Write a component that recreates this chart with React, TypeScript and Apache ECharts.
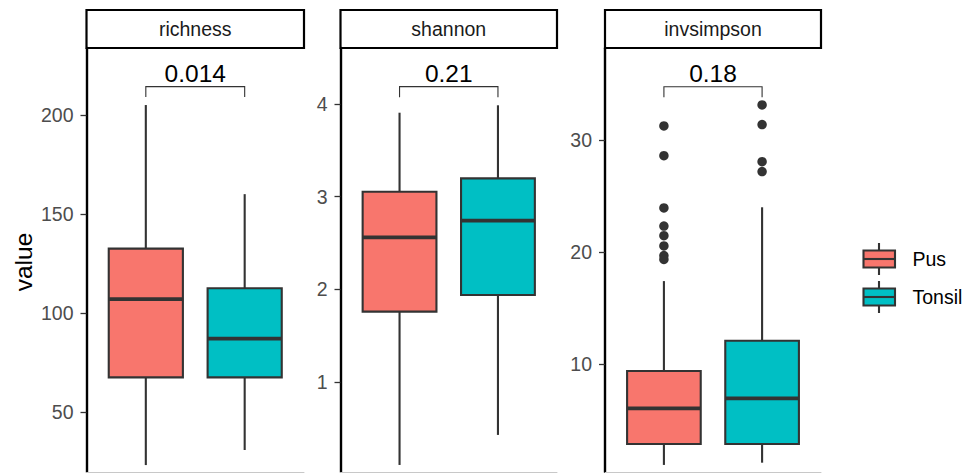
import React, { useEffect, useRef } from "react";
import * as echarts from "echarts";

// ---- data ----
const groups = ["Pus", "Tonsil"];
const groupColors = ["#F8766D", "#00BFC4"];
const metrics = ["richness", "shannon", "invsimpson"];

// [lower whisker, Q1, median, Q3, upper whisker]
const richnessPus = [23.2, 67.5, 107, 132.5, 205];
const richnessTonsil = [30.8, 67.5, 87, 112.5, 160];
const shannonPus = [0.106, 1.76, 2.562, 3.054, 3.906];
const shannonTonsil = [0.43, 1.94, 2.741, 3.198, 3.986];
const invsimpsonPus = [1.03, 2.9, 6.08, 9.4, 17.42];
const invsimpsonTonsil = [1.23, 2.9, 6.97, 12.1, 24.0];

const richnessOutliersPus: number[] = [];
const richnessOutliersTonsil: number[] = [];
const shannonOutliersPus: number[] = [];
const shannonOutliersTonsil: number[] = [];
const invsimpsonOutliersPus = [31.25, 28.6, 23.94, 22.33, 21.47, 20.55, 19.7, 19.35];
const invsimpsonOutliersTonsil = [33.12, 31.37, 28.07, 27.18];

const pValues = ["0.014", "0.21", "0.18"];
const bracketTop = [214.3, 4.187, 34.75];
const bracketTip = [209, 4.072, 33.8];

const yTicks = [
  [50, 100, 150, 200],
  [1, 2, 3, 4],
  [10, 20, 30],
];
const yMin = [19.7, 0.03, 0.4];
const yMax = [233.8, 4.604, 38.2];

const boxStats = [
  [richnessPus, richnessTonsil],
  [shannonPus, shannonTonsil],
  [invsimpsonPus, invsimpsonTonsil],
];
const outliers = [
  [richnessOutliersPus, richnessOutliersTonsil],
  [shannonOutliersPus, shannonOutliersTonsil],
  [invsimpsonOutliersPus, invsimpsonOutliersTonsil],
];

// ---- layout ----
const panelLeft = [86.5, 340.5, 605];
const panelWidth = [217.5, 216.5, 216];
const panelTop = 48;
const panelBottom = 472;
const FONT = "'Liberation Sans', Arial, sans-serif";
const DARK = "#333333";
const STROKE = 2.1;

export default function App() {
  const ref = useRef<HTMLDivElement>(null);
  useEffect(() => {
    if (!ref.current) return;
    const chart = echarts.init(ref.current, null, { renderer: "svg" });

    const grids: any[] = [];
    const xAxes: any[] = [];
    const yAxes: any[] = [];
    const series: any[] = [];
    const graphics: any[] = [];

    metrics.forEach((m, i) => {
      grids.push({
        left: panelLeft[i],
        width: panelWidth[i],
        top: panelTop,
        height: panelBottom - panelTop,
      });
      xAxes.push({
        gridIndex: i,
        type: "value",
        min: 0.4,
        max: 2.6,
        axisLine: { show: true, lineStyle: { color: "#c8c8c8", width: 1 } },
        axisTick: { show: false },
        axisLabel: { show: false },
        splitLine: { show: false },
      });
      yAxes.push({
        gridIndex: i,
        type: "value",
        min: yMin[i],
        max: yMax[i],
        axisLine: { show: true, onZero: false, lineStyle: { color: "#000", width: 2.4 } },
        axisTick: {
          show: true,
          length: 6,
          customValues: yTicks[i],
          lineStyle: { color: DARK, width: 1.3 },
        },
        axisLabel: {
          customValues: yTicks[i],
          color: "#4D4D4D",
          fontSize: 19.5,
          fontFamily: FONT,
          margin: 13,
        },
        splitLine: { show: false },
      });

      // boxes
      series.push({
        type: "custom",
        xAxisIndex: i,
        yAxisIndex: i,
        clip: false,
        data: boxStats[i].map((s, g) => [g + 1, ...s, g]),
        renderItem: (params: any, api: any) => {
          const x = api.value(0);
          const lo = api.coord([x, api.value(1)]);
          const q1 = api.coord([x, api.value(2)]);
          const med = api.coord([x, api.value(3)]);
          const q3 = api.coord([x, api.value(4)]);
          const hi = api.coord([x, api.value(5)]);
          const color = groupColors[api.value(6)];
          const hw = api.size([0.75, 0])[0] / 2;
          const cx = lo[0];
          return {
            type: "group",
            children: [
              {
                type: "line",
                shape: { x1: cx, y1: hi[1], x2: cx, y2: q3[1] },
                style: { stroke: DARK, lineWidth: STROKE },
              },
              {
                type: "line",
                shape: { x1: cx, y1: q1[1], x2: cx, y2: lo[1] },
                style: { stroke: DARK, lineWidth: STROKE },
              },
              {
                type: "rect",
                shape: { x: cx - hw, y: q3[1], width: hw * 2, height: q1[1] - q3[1] },
                style: { fill: color, stroke: DARK, lineWidth: STROKE },
              },
              {
                type: "line",
                shape: { x1: cx - hw, y1: med[1], x2: cx + hw, y2: med[1] },
                style: { stroke: DARK, lineWidth: 3.8 },
              },
            ],
          };
        },
      });

      // outliers
      const pts: number[][] = [];
      outliers[i].forEach((arr, g) => arr.forEach((v) => pts.push([g + 1, v])));
      if (pts.length) {
        series.push({
          type: "scatter",
          xAxisIndex: i,
          yAxisIndex: i,
          data: pts,
          symbol: "circle",
          symbolSize: 9.5,
          itemStyle: { color: DARK, opacity: 1 },
          clip: false,
        });
      }

      // significance bracket
      series.push({
        type: "custom",
        xAxisIndex: i,
        yAxisIndex: i,
        clip: false,
        data: [[1, 2, bracketTop[i], bracketTip[i]]],
        renderItem: (params: any, api: any) => {
          const a = api.coord([api.value(0), api.value(3)]);
          const b = api.coord([api.value(0), api.value(2)]);
          const c = api.coord([api.value(1), api.value(2)]);
          const d = api.coord([api.value(1), api.value(3)]);
          return {
            type: "group",
            children: [
              {
                type: "polyline",
                shape: { points: [a, b, c, d] },
                style: { stroke: DARK, lineWidth: 1.1, fill: "none" },
              },
              {
                type: "text",
                x: (b[0] + c[0]) / 2,
                y: b[1] - 1,
                style: {
                  text: pValues[i],
                  fill: "#000",
                  fontSize: 24.5,
                  fontFamily: FONT,
                  align: "center",
                  verticalAlign: "bottom",
                },
              },
            ],
          };
        },
      });

      // facet strip
      graphics.push({
        type: "rect",
        shape: { x: panelLeft[i], y: 10, width: panelWidth[i], height: panelTop - 10 },
        style: { fill: "#fff", stroke: "#000", lineWidth: 2.2 },
      });
      graphics.push({
        type: "text",
        x: panelLeft[i] + panelWidth[i] / 2,
        y: (10 + panelTop) / 2,
        style: {
          text: m,
          fill: "#1A1A1A",
          fontSize: 19.5,
          fontFamily: FONT,
          align: "center",
          verticalAlign: "middle",
        },
      });
    });

    // y axis title
    graphics.push({
      type: "text",
      x: 23,
      y: 262,
      rotation: Math.PI / 2,
      style: {
        text: "value",
        fill: "#000",
        fontSize: 24.5,
        fontFamily: FONT,
        align: "center",
        verticalAlign: "middle",
      },
    });

    // legend
    const legendY = [259, 297];
    groups.forEach((g, k) => {
      const cy = legendY[k];
      graphics.push({
        type: "line",
        shape: { x1: 879, y1: cy - 16, x2: 879, y2: cy + 16 },
        style: { stroke: DARK, lineWidth: STROKE },
      });
      graphics.push({
        type: "rect",
        shape: { x: 863.5, y: cy - 8.5, width: 31.5, height: 17 },
        style: { fill: groupColors[k], stroke: DARK, lineWidth: STROKE },
      });
      graphics.push({
        type: "line",
        shape: { x1: 863.5, y1: cy, x2: 895, y2: cy },
        style: { stroke: DARK, lineWidth: STROKE },
      });
      graphics.push({
        type: "text",
        x: 912.5,
        y: cy,
        style: {
          text: g,
          fill: "#000",
          fontSize: 19.5,
          fontFamily: FONT,
          align: "left",
          verticalAlign: "middle",
        },
      });
    });

    chart.setOption({
      animation: false,
      backgroundColor: "#fff",
      grid: grids,
      xAxis: xAxes,
      yAxis: yAxes,
      series,
      graphic: graphics,
    });
    return () => chart.dispose();
  }, []);

  return (
    <div
      ref={ref}
      style={{ position: "fixed", left: 0, top: 0, width: 966, height: 473 }}
    />
  );
}
